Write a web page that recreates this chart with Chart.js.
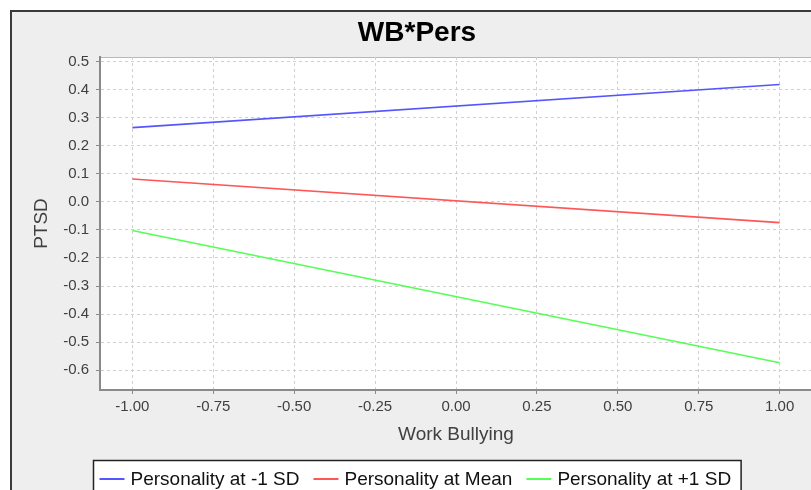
<!DOCTYPE html>
<html>
<head>
<meta charset="utf-8">
<title>WB*Pers</title>
<script src="https://cdn.jsdelivr.net/npm/chart.js@4.4.1/dist/chart.umd.min.js"></script>
<style>
  html, body { margin: 0; padding: 0; background: #fff; overflow: hidden; width: 811px; height: 490px; }
  #frame {
    position: absolute; left: 10px; top: 10px; width: 900px; height: 600px;
    border: 2px solid #3a3a3a; background: #eeeeee; box-sizing: border-box;
  }
  #chart { position: absolute; left: 0; top: 0; }
</style>
</head>
<body>
<div id="frame"></div>
<canvas id="chart" width="834" height="490"></canvas>
<script>
// data
const xValues = [-1, 1];
const lowPers = [0.265, 0.419];    // Personality at -1 SD
const meanPers = [0.082, -0.074];  // Personality at Mean
const highPers = [-0.102, -0.574]; // Personality at +1 SD

const seriesLabels = ["Personality at -1 SD", "Personality at Mean", "Personality at +1 SD"];
const seriesColors = ["#5555ff", "#ff5555", "#55ff55"];

const xTicks = [-1, -0.75, -0.5, -0.25, 0, 0.25, 0.5, 0.75, 1];
const yTicks = [0.5, 0.4, 0.3, 0.2, 0.1, 0, -0.1, -0.2, -0.3, -0.4, -0.5, -0.6];

const toPoints = ys => ys.map((y, i) => ({ x: xValues[i], y: y }));

// white plot background + light outline on top
const plotBackground = {
    id: "plotBackground",
    beforeDraw(chart) {
        const { ctx, chartArea: a } = chart;
        ctx.save();
        ctx.fillStyle = "#ffffff";
        ctx.fillRect(a.left, a.top, a.right - a.left, a.bottom - a.top);
        ctx.strokeStyle = "#b8b8b8";
        ctx.lineWidth = 1;
        ctx.beginPath();
        ctx.moveTo(a.left, a.top + 0.5);
        ctx.lineTo(a.right, a.top + 0.5);
        ctx.stroke();
        ctx.restore();
    }
};

// boxed legend like the original
const boxLegend = {
    id: "boxLegend",
    afterDraw(chart) {
        const ctx = chart.ctx;
        const sets = chart.data.datasets;
        const lineLen = 25, gap = 6, itemGap = 14, pad = 6;
        ctx.save();
        ctx.font = "19px 'Liberation Sans', Arial, sans-serif";
        const widths = sets.map(d => ctx.measureText(d.label).width);
        let total = pad * 2 + itemGap * (sets.length - 1);
        widths.forEach(w => total += lineLen + gap + w);
        const center = (22 + chart.width - 22) / 2;
        const left = Math.round(center - total / 2) - 1.5;
        const top = 460.5, y = 479;
        ctx.fillStyle = "#ffffff";
        ctx.fillRect(left, top, total + 4, 40);
        ctx.strokeStyle = "#222";
        ctx.lineWidth = 1.5;
        ctx.strokeRect(left, top, total + 4, 40);
        let x = left + pad;
        ctx.textBaseline = "middle";
        sets.forEach((d, i) => {
            ctx.strokeStyle = d.borderColor;
            ctx.lineWidth = 2;
            ctx.beginPath();
            ctx.moveTo(x, y);
            ctx.lineTo(x + lineLen, y);
            ctx.stroke();
            x += lineLen + gap;
            ctx.fillStyle = "#111";
            ctx.fillText(d.label, x, y + 1);
            x += widths[i] + itemGap;
        });
        ctx.restore();
    }
};

const ctx = document.getElementById("chart").getContext("2d");

new Chart(ctx, {
    type: "line",
    data: {
        datasets: [lowPers, meanPers, highPers].map((vals, i) => ({
            label: seriesLabels[i],
            data: toPoints(vals),
            borderColor: seriesColors[i],
            backgroundColor: seriesColors[i],
            borderWidth: 1.6,
            pointRadius: 0,
            tension: 0,
            fill: false
        }))
    },
    options: {
        responsive: false,
        animation: false,
        layout: { padding: { left: 22, right: 22, top: 0, bottom: 0 } },
        plugins: {
            legend: { display: false },
            tooltip: { enabled: false },
            title: {
                display: true,
                text: "WB*Pers",
                color: "#000",
                font: { family: "'Liberation Sans', Arial, sans-serif", size: 28, weight: "bold", lineHeight: 1.2 },
                padding: { top: 16, bottom: 7.4 }
            }
        },
        scales: {
            x: {
                type: "linear",
                min: -1.1,
                max: 1.1,
                afterBuildTicks: scale => { scale.ticks = xTicks.map(v => ({ value: v })); },
                afterFit: scale => { scale.height = 100; },
                ticks: {
                    autoSkip: false,
                    maxRotation: 0,
                    padding: 4,
                    color: "#404040",
                    font: { family: "'Liberation Sans', Arial, sans-serif", size: 15 },
                    callback: v => v.toFixed(2)
                },
                grid: { color: "#d0d0d0", tickColor: "#8a8a8a", tickLength: 4, tickWidth: 1 },
                border: { color: "#8a8a8a", width: 2, dash: [3, 3] },
                title: {
                    display: true,
                    text: "Work Bullying",
                    color: "#404040",
                    font: { family: "'Liberation Sans', Arial, sans-serif", size: 19 },
                    padding: { top: 0, bottom: 43.6 }
                }
            },
            y: {
                min: -0.671,
                max: 0.517,
                afterBuildTicks: scale => { scale.ticks = yTicks.map(v => ({ value: v })); },
                afterFit: scale => { scale.width = 78; },
                ticks: {
                    autoSkip: false,
                    padding: 7,
                    color: "#404040",
                    font: { family: "'Liberation Sans', Arial, sans-serif", size: 15 },
                    callback: v => v.toFixed(1)
                },
                grid: { color: "#d0d0d0", tickColor: "#8a8a8a", tickLength: 4, tickWidth: 1 },
                border: { color: "#8a8a8a", width: 2, dash: [3, 3] },
                title: {
                    display: true,
                    text: "PTSD",
                    color: "#404040",
                    font: { family: "'Liberation Sans', Arial, sans-serif", size: 19 },
                    padding: { top: 8, bottom: 0 }
                }
            }
        }
    },
    plugins: [plotBackground, boxLegend]
});
</script>
</body>
</html>
